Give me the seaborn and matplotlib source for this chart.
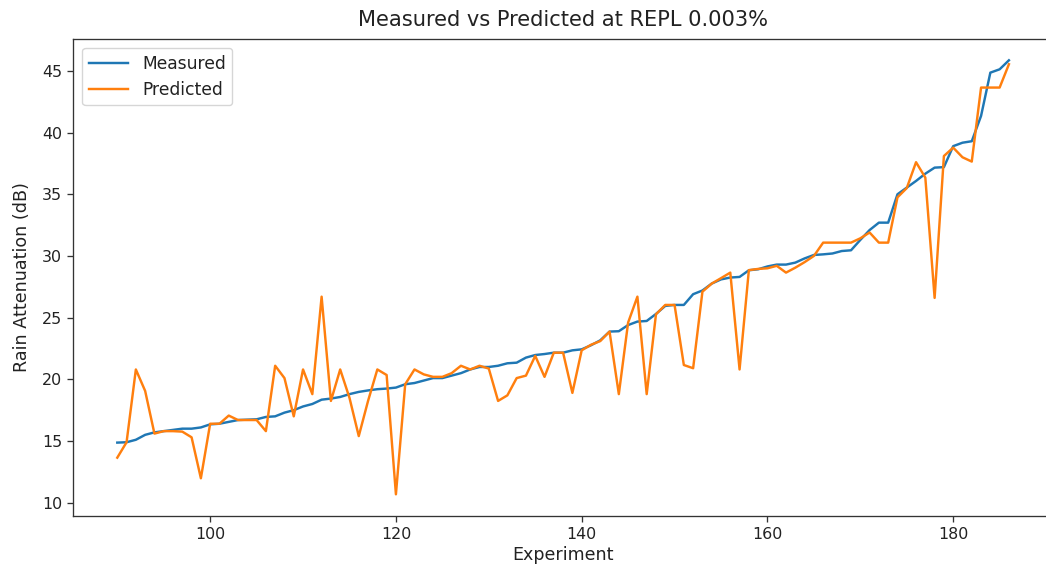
import matplotlib
matplotlib.use("Agg")
import matplotlib.pyplot as plt
import seaborn as sns
import numpy as np
import pandas as pd

experiment = list(range(90, 187))

measured = [
    14.87, 14.9, 15.1, 15.5, 15.7, 15.8, 15.9, 16.0, 16.0, 16.1,
    16.35, 16.4, 16.55, 16.7, 16.73, 16.76, 16.95, 17.0, 17.3, 17.5,
    17.8, 18.0, 18.35, 18.44, 18.57, 18.8, 18.98, 19.1, 19.2, 19.25,
    19.33, 19.6, 19.7, 19.9, 20.1, 20.1, 20.3, 20.5, 20.8, 21.0,
    21.0, 21.1, 21.3, 21.35, 21.76, 21.97, 22.05, 22.16, 22.16, 22.35,
    22.43, 22.76, 23.16, 23.87, 23.9, 24.4, 24.68, 24.73, 25.3, 25.95,
    26.03, 26.03, 26.9, 27.2, 27.76, 28.1, 28.25, 28.3, 28.84, 28.92,
    29.15, 29.3, 29.3, 29.46, 29.8, 30.08, 30.13, 30.2, 30.4, 30.46,
    31.3, 32.1, 32.7, 32.7, 35.0, 35.54, 36.08, 36.67, 37.16, 37.2,
    38.9, 39.18, 39.3, 41.35, 44.86, 45.13, 45.86,
]

predicted = [
    13.65, 14.9, 20.8, 19.06, 15.6, 15.8, 15.8, 15.76, 15.3, 11.98,
    16.4, 16.4, 17.06, 16.7, 16.7, 16.7, 15.8, 21.1, 20.1, 17.0,
    20.8, 18.8, 26.7, 18.25, 20.8, 18.5, 15.4, 18.25, 20.8, 20.35,
    10.68, 19.6, 20.8, 20.4, 20.2, 20.2, 20.5, 21.1, 20.8, 21.1,
    20.87, 18.25, 18.7, 20.1, 20.3, 21.9, 20.2, 22.16, 22.16, 18.9,
    22.35, 22.8, 23.1, 23.87, 18.8, 24.6, 26.7, 18.8, 25.27, 26.03,
    26.03, 21.16, 20.9, 27.1, 27.76, 28.2, 28.65, 20.8, 28.85, 28.95,
    29.0, 29.2, 28.65, 29.05, 29.5, 30.0, 31.08, 31.08, 31.08, 31.08,
    31.43, 31.9, 31.08, 31.08, 34.75, 35.5, 37.6, 36.35, 26.6, 38.1,
    38.78, 38.0, 37.65, 43.65, 43.65, 43.65, 45.54,
]

series_names = ["Measured", "Predicted"]
colors = ["#1f77b4", "#ff7f0e"]

plt.rcParams["font.family"] = ["DejaVu Sans"]

W, H = 1046, 572
fig = plt.figure(figsize=(W / 100, H / 100), dpi=100)
left, right, top, bottom = 72.7, 1053.5, 38.6, 516.0
ax = fig.add_axes([left / W, 1 - bottom / H, (right - left) / W, (bottom - top) / H])

sns.lineplot(x=experiment, y=measured, ax=ax, color=colors[0], linewidth=1.75,
             label=series_names[0])
sns.lineplot(x=experiment, y=predicted, ax=ax, color=colors[1], linewidth=1.75,
             label=series_names[1])

ax.set_title("Measured vs Predicted at REPL 0.003%", fontsize=15.1, pad=9, color="#222222")
ax.set_xlabel("Experiment", fontsize=12.6, labelpad=3, color="#222222")
ax.set_ylabel("Rain Attenuation (dB)", fontsize=12.6, labelpad=8, color="#222222")
ax.set_xticks([100, 120, 140, 160, 180])
ax.set_yticks([10, 15, 20, 25, 30, 35, 40, 45])
ax.tick_params(labelsize=11.4, length=4.1, width=0.95, colors="#333333", labelcolor="#222222")
for s in ax.spines.values():
    s.set_linewidth(0.95)
    s.set_color("#333333")
ax.grid(False)
ax.set_facecolor("white")
leg = ax.legend(loc="upper left", fontsize=12.3, frameon=True, handlelength=2.3,
                labelspacing=0.45, borderaxespad=0.55)
for t in leg.get_texts():
    t.set_color("#222222")

fig.savefig("out.png", dpi=100, facecolor="white")
